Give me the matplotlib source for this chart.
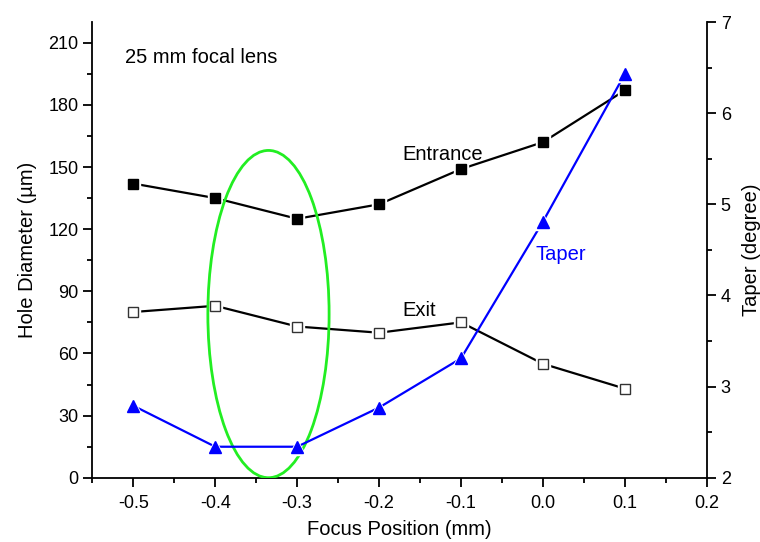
import matplotlib
matplotlib.use("Agg")
import matplotlib.pyplot as plt
from matplotlib.patches import Ellipse

plt.rcParams['font.family'] = ['Liberation Sans', 'DejaVu Sans']

# data
focus = [-0.5, -0.4, -0.3, -0.2, -0.1, 0.0, 0.1]
entrance = [142, 135, 125, 132, 149, 162, 187]
exit_d = [80, 83, 73, 70, 75, 55, 43]
taper = [2.79, 2.34, 2.34, 2.77, 3.31, 4.81, 6.43]

fig = plt.figure(figsize=(7.6, 5.42), dpi=100)
ax = fig.add_axes([0.1215, 0.1186, 0.8085, 0.8408])
ax2 = ax.twinx()

# lines with a small white halo behind the markers (gap look)
ax.plot(focus, entrance, color='black', lw=1.6, zorder=2)
ax.plot(focus, entrance, ls='none', marker='s', ms=10, color='white', zorder=3)
ax.plot(focus, entrance, ls='none', marker='s', ms=7, color='black', zorder=6)

ax.plot(focus, exit_d, color='black', lw=1.6, zorder=2)
ax.plot(focus, exit_d, ls='none', marker='s', ms=10, color='white', zorder=3)
ax.plot(focus, exit_d, ls='none', marker='s', ms=7, mfc='white', mec='#333333', mew=1, zorder=6)

ax2.plot(focus, taper, color='blue', lw=1.6, zorder=2)
ax2.plot(focus, taper, ls='none', marker='^', ms=11.5, color='white', zorder=3)
ax2.plot(focus, taper, ls='none', marker='^', ms=9, color='blue', zorder=4)

ax.add_patch(Ellipse((-0.335, 79), 0.148, 158, fill=False, ec='#22ee22', lw=2, zorder=5))

ax.set_xlim(-0.55, 0.2)
ax.set_ylim(0, 220)
ax2.set_ylim(2, 7)

ax.set_xticks([-0.5, -0.4, -0.3, -0.2, -0.1, 0.0, 0.1, 0.2])
ax.set_xticklabels(['-0.5', '-0.4', '-0.3', '-0.2', '-0.1', '0.0', '0.1', '0.2'])
ax.set_xticks([-0.55, -0.45, -0.35, -0.25, -0.15, -0.05, 0.05, 0.15], minor=True)
ax.set_yticks(range(0, 211, 30))
ax.set_yticks(range(15, 220, 30), minor=True)
ax2.set_yticks([2, 3, 4, 5, 6, 7])
ax2.set_yticks([2.5, 3.5, 4.5, 5.5, 6.5], minor=True)

for a in (ax, ax2):
    a.spines['top'].set_visible(False)
    a.tick_params(which='major', direction='out', length=6.5, width=1.3, labelsize=13)
    a.tick_params(which='minor', direction='out', length=3.5, width=1.3)
    for s in a.spines.values():
        s.set_linewidth(1.3)
ax.spines['right'].set_visible(False)
ax2.spines['left'].set_visible(False)
ax2.spines['bottom'].set_visible(False)
ax.tick_params(axis='x', pad=6)

ax.set_xlabel('Focus Position (mm)', fontsize=14.5, labelpad=6)
ax.set_ylabel('Hole Diameter (\u00b5m)', fontsize=14.5, labelpad=8)
ax2.set_ylabel('Taper (degree)', fontsize=14.5, labelpad=8)

ax.text(-0.51, 203, '25 mm focal lens', fontsize=14.5, va='center')
ax.text(-0.122, 156, 'Entrance', fontsize=14.5, ha='center', va='center')
ax.text(-0.151, 80.5, 'Exit', fontsize=14.5, ha='center', va='center')
ax.text(0.022, 108, 'Taper', fontsize=14.5, color='blue', ha='center', va='center')

fig.savefig('out.png', dpi=100)
